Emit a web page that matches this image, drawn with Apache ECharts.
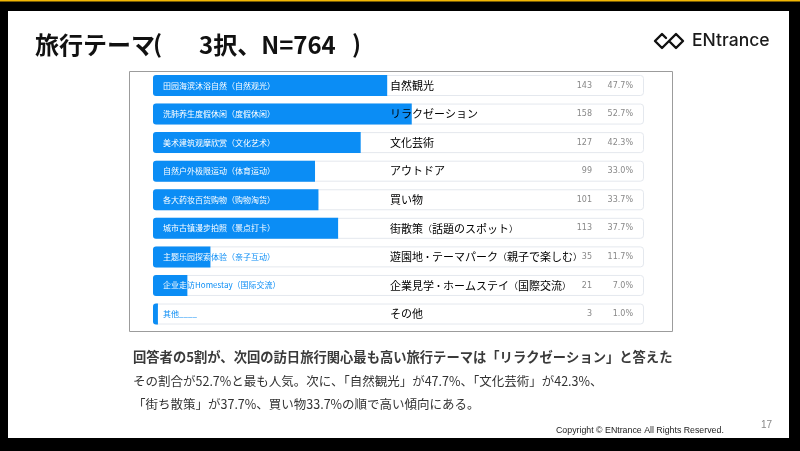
<!DOCTYPE html>
<html><head><meta charset="utf-8">
<script src="https://cdn.jsdelivr.net/npm/echarts@6/dist/echarts.min.js"></script>
<style>html,body{margin:0;padding:0;background:#000}#c{width:800px;height:451px}</style>
</head><body><div id="c"></div>
<script>
const cnLabels = ['田园海滨沐浴自然（自然观光）','洗肺养生度假休闲（度假休闲）','美术建筑观摩欣赏（文化艺术）','自然户外极限运动（体育运动）','各大药妆百货购物（购物淘货）','城市古镇漫步拍照（景点打卡）','主题乐园探索体验（亲子互动）','企业走访Homestay（国际交流）','其他____'];
const jpLabels = ['自然観光','リラクゼーション','文化芸術','アウトドア','買い物','街散策（話題のスポット）','遊園地・テーマパーク（親子で楽しむ）','企業見学・ホームステイ（国際交流）','その他'];
const counts = [143,158,127,99,101,113,35,21,3];
const percents = [47.7,52.7,42.3,33.0,33.7,37.7,11.7,7.0,1.0];
const fullScale = [100,100,100,100,100,100,100,100,100];

const BLUE = '#0b8df5';
const CN_FONT = '8px "Noto Sans CJK SC"';
const chart = echarts.init(document.getElementById('c'), null, {renderer:'canvas'});

function jpFormat(v){
  return '{t|' + v.replace(/([（）・])/g, '}{n|$1}{t|') + '}';
}

const option = {
  backgroundColor:'#000',
  animation:false,
  grid:{left:153,right:156,top:71.2,bottom:122.7},
  xAxis:{type:'value',min:0,max:100,show:false},
  yAxis:[
    {type:'category',inverse:true,data:jpLabels,position:'left',z:10,
     axisLine:{show:false},axisTick:{show:false},splitLine:{show:false},
     axisLabel:{inside:true,margin:237,formatter:jpFormat,
       rich:{t:{fontSize:11,color:'#000',fontFamily:'"Noto Sans CJK JP"'},
             n:{fontSize:9,color:'#000',fontFamily:'"Noto Sans CJK JP"'}}}},
    {type:'category',inverse:true,data:jpLabels,position:'right',z:10,
     axisLine:{show:false},axisTick:{show:false},splitLine:{show:false},
     axisLabel:{inside:true,margin:11,
       formatter:(v,i)=>'{c|'+counts[i]+'}{p|'+percents[i].toFixed(1)+'%}',
       rich:{c:{fontSize:8,color:'#888',width:30,align:'right',fontFamily:'"DejaVu Sans"'},
             p:{fontSize:8,color:'#888',width:41,align:'right',fontFamily:'"DejaVu Sans"'}}}}
  ],
  series:[
    {type:'bar',data:fullScale,barWidth:21,z:2,silent:true,
     itemStyle:{color:'#fff',borderColor:'#e4e8ee',borderWidth:1,borderRadius:3}},
    {type:'bar',barGap:'-100%',barWidth:21,z:3,data:percents,
     itemStyle:{color:BLUE,borderRadius:[3,0,0,3]}},
    {type:'custom',z:4,silent:true,
     data:percents.map((v,i)=>[v,i]),encode:{x:0,y:1},
     renderItem:(params,api)=>{
       const i = params.dataIndex;
       const p0 = api.coord([0,i]);
       const p1 = api.coord([api.value(0),i]);
       const h = 21;
       return {type:'group',children:[
         {type:'text',style:{x:p0[0]+10,y:p0[1],text:cnLabels[i],fill:BLUE,font:CN_FONT,align:'left',verticalAlign:'middle'}},
         {type:'text',clipPath:{type:'rect',shape:{x:p0[0],y:p0[1]-h/2,width:Math.max(p1[0]-p0[0],0.1),height:h}},
          style:{x:p0[0]+10,y:p0[1],text:cnLabels[i],fill:'#fff',font:CN_FONT,align:'left',verticalAlign:'middle'}}
       ]};
     }}
  ],
  graphic:[
    {type:'rect',z:-10,shape:{x:0,y:0,width:800,height:1.5},style:{fill:'#f2b705'}},
    {type:'rect',z:-10,shape:{x:8,y:11,width:781,height:427},style:{fill:'#fff'}},
    {type:'rect',z:-5,shape:{x:129.5,y:71.5,width:543,height:260},style:{fill:'#fff',stroke:'#9c9c9c',lineWidth:1}},
    {type:'text',z:20,style:{x:35,y:45,text:'旅行テーマ',font:'bold 24px "Noto Sans CJK JP"',fill:'#111',textVerticalAlign:'middle'}},
    {type:'text',z:20,style:{x:153,y:44,text:'(',font:'bold 24px "Noto Sans CJK JP"',fill:'#111',textVerticalAlign:'middle'}},
    {type:'text',z:20,style:{x:199,y:45,text:'3択、N=764',font:'bold 24px "Noto Sans CJK JP"',fill:'#111',textVerticalAlign:'middle'}},
    {type:'text',z:20,style:{x:352,y:44,text:')',font:'bold 24px "Noto Sans CJK JP"',fill:'#111',textVerticalAlign:'middle'}},
    {type:'polyline',z:20,shape:{points:[[666,38],[662,34],[655,41],[662,48],[676,34],[683,41],[676,48],[670,42]]},
     style:{stroke:'#111',lineWidth:2.4,fill:null,lineJoin:'round',lineCap:'round'}},
    {type:'text',z:20,style:{x:692,y:41,text:'ENtrance',font:'500 17.5px Inter',fill:'#1a1a1a',textVerticalAlign:'middle'}},
    {type:'text',z:20,style:{x:133,y:357,text:'回答者の5割が、次回の訪日旅行関心最も高い旅行テーマは「リラクゼーション」と答えた',font:'bold 13.3px "Noto Sans CJK JP"',fill:'#3a3a3a',textVerticalAlign:'middle'}},
    {type:'text',z:20,style:{x:133,y:381,text:'その割合が52.7%と最も人気。次に、「自然観光」が47.7%、「文化芸術」が42.3%、',font:'12.5px "Noto Sans CJK JP"',fill:'#333',textVerticalAlign:'middle'}},
    {type:'text',z:20,style:{x:133,y:404,text:'「街ち散策」が37.7%、買い物33.7%の順で高い傾向にある。',font:'12.5px "Noto Sans CJK JP"',fill:'#333',textVerticalAlign:'middle'}},
    {type:'text',z:20,style:{x:556,y:431,text:'Copyright © ENtrance All Rights Reserved.',font:'8.8px "Liberation Sans"',fill:'#222',textVerticalAlign:'middle'}},
    {type:'text',z:20,style:{x:761,y:425,text:'17',font:'10px "Liberation Sans"',fill:'#888',textVerticalAlign:'middle'}}
  ]
};
chart.setOption(option);
</script></body></html>
